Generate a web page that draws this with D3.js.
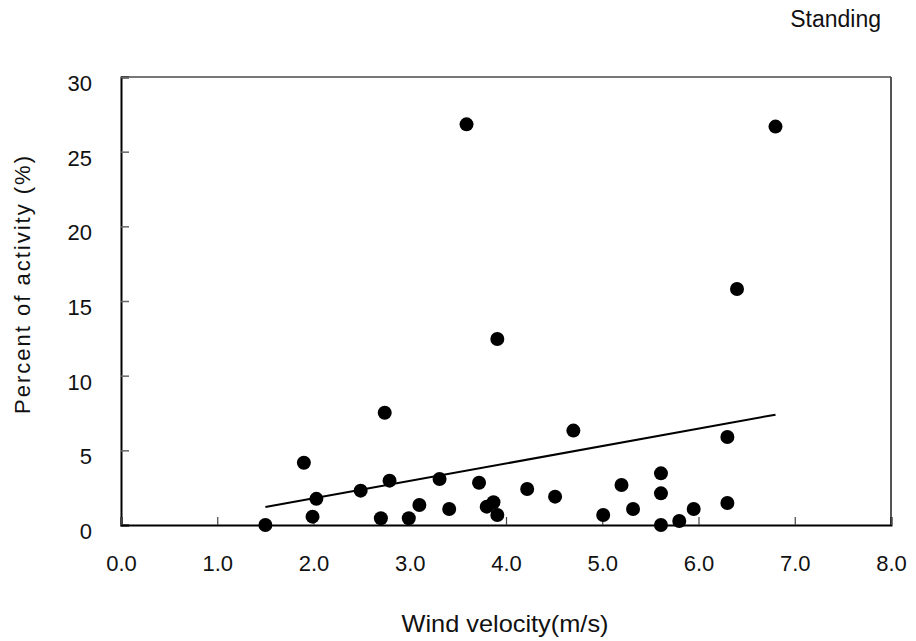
<!DOCTYPE html>
<html>
<head>
<meta charset="utf-8">
<script src="https://cdn.jsdelivr.net/npm/d3@7"></script>
<style>
  html, body { margin: 0; padding: 0; background: #fff; }
  text { font-family: "Liberation Sans", Arial, sans-serif; fill: #111; }
</style>
</head>
<body>
<svg id="chart" width="916" height="641"></svg>
<script>
// ---- data ----
const windVelocity = [1.50, 1.90, 2.03, 1.99, 2.49, 2.74, 2.70, 2.79, 2.99, 3.10, 3.31, 3.41, 3.72, 3.80, 3.87, 3.91, 4.22, 4.51, 4.70, 5.01, 5.20, 5.32, 5.61, 5.61, 5.61, 5.80, 5.95, 6.30, 6.30, 6.40, 6.80, 3.91, 3.59];
const percentActivity = [0, 4.17, 1.75, 0.56, 2.30, 7.52, 0.45, 2.97, 0.45, 1.34, 3.08, 1.07, 2.83, 1.23, 1.52, 0.67, 2.41, 1.90, 6.32, 0.67, 2.68, 1.07, 3.46, 2.12, 0, 0.27, 1.07, 5.89, 1.47, 15.8, 26.68, 12.46, 26.83];
const fitX = [1.5, 6.8];
const fitY = [1.2, 7.39];
const xTicks = [0, 1, 2, 3, 4, 5, 6, 7, 8];
const yTicks = [0, 5, 10, 15, 20, 25, 30];
const chartTitle = "Standing";
const xTitle = "Wind velocity(m/s)";
const yTitle = "Percent of activity (%)";

// ---- layout ----
const svg = d3.select("#chart");
const mLeft = 121, mRight = 891, mTop = 77, mBottom = 525;
const x = d3.scaleLinear().domain([0, 8]).range([mLeft, mRight]);
const y = d3.scaleLinear().domain([0, 30]).range([mBottom, mTop]);

// frame: top and right borders
svg.append("line").attr("x1", mLeft).attr("x2", mRight).attr("y1", mTop).attr("y2", mTop)
  .attr("stroke", "#777").attr("stroke-width", 2);
svg.append("line").attr("x1", mRight).attr("x2", mRight).attr("y1", mTop).attr("y2", mBottom)
  .attr("stroke", "#555").attr("stroke-width", 2);

// y axis
const yAxis = svg.append("g").attr("transform", `translate(${mLeft},0)`)
  .call(d3.axisLeft(y).tickValues(yTicks).tickSize(-8).tickPadding(29).tickFormat(d3.format("d")));
yAxis.select(".domain").attr("stroke", "#000").attr("stroke-width", 2);
yAxis.selectAll(".tick line").attr("stroke", "#666").attr("stroke-width", 1.5);
yAxis.selectAll(".tick text").attr("font-size", 22).attr("dy", "0.62em")
  .style("font-family", "'Liberation Sans', Arial, sans-serif").attr("fill", "#111");

// x axis
const xAxis = svg.append("g").attr("transform", `translate(0,${mBottom})`)
  .call(d3.axisBottom(x).tickValues(xTicks).tickSize(-8).tickPadding(30).tickFormat(d3.format(".1f")));
xAxis.select(".domain").attr("stroke", "#000").attr("stroke-width", 2);
xAxis.selectAll(".tick line").attr("stroke", "#444").attr("stroke-width", 1.2);
xAxis.selectAll(".tick text").attr("font-size", 22)
  .style("font-family", "'Liberation Sans', Arial, sans-serif").attr("fill", "#111");

// regression line
const fit = fitX.map((v, i) => [v, fitY[i]]);
svg.append("path").datum(fit)
  .attr("d", d3.line().x(d => x(d[0])).y(d => y(d[1])))
  .attr("stroke", "#000").attr("stroke-width", 2).attr("fill", "none");

// points
const pts = windVelocity.map((v, i) => ({ x: v, y: percentActivity[i] }));
svg.append("g").selectAll("circle").data(pts).join("circle")
  .attr("cx", d => x(d.x)).attr("cy", d => y(d.y)).attr("r", 7).attr("fill", "#000");

// titles
svg.append("text").attr("x", 881).attr("y", 27).attr("text-anchor", "end")
  .attr("font-size", 23).text(chartTitle);
svg.append("text").attr("x", 505).attr("y", 632).attr("text-anchor", "middle")
  .attr("font-size", 24).attr("textLength", 207).attr("lengthAdjust", "spacingAndGlyphs").text(xTitle);
svg.append("text").attr("transform", "translate(30,285) rotate(-90)").attr("text-anchor", "middle")
  .attr("font-size", 22).attr("textLength", 258).attr("lengthAdjust", "spacing").text(yTitle);
</script>
</body>
</html>
